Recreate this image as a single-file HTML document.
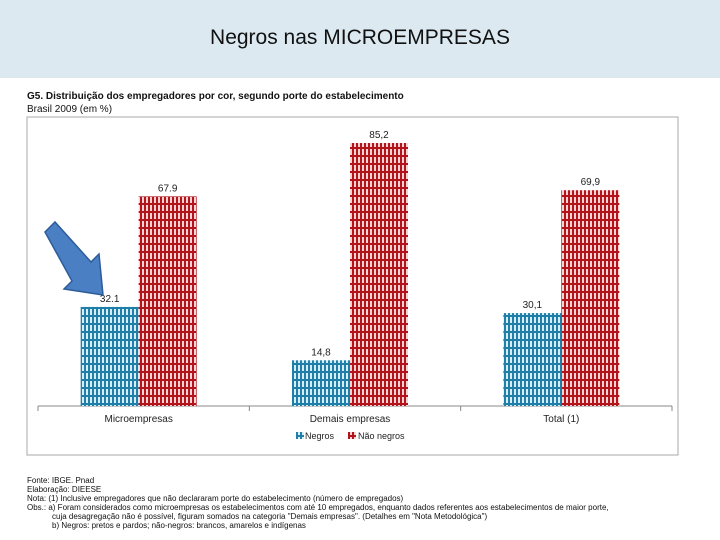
<!DOCTYPE html>
<html><head><meta charset="utf-8"><style>
body{margin:0;width:720px;height:540px;background:#fff;overflow:hidden;font-family:"Liberation Sans",sans-serif;position:relative}
#hdr{position:absolute;left:0;top:0;width:720px;height:78px;background:#dce9f1}
#ttl{position:absolute;left:0;top:26px;width:720px;text-align:center;font-size:21px;color:#111}
.t{position:absolute;font-size:10px;color:#111;white-space:nowrap}
</style></head><body>
<div id="hdr"></div>
<div id="ttl">Negros nas MICROEMPRESAS</div>
<div class="t" style="left:27px;top:91px;font-weight:bold">G5. Distribuição dos empregadores por cor, segundo porte do estabelecimento</div>
<div class="t" style="left:27px;top:104px">Brasil 2009 (em %)</div>
<div class="t" style="left:27px;top:476px;font-size:8px">Fonte: IBGE. Pnad</div>
<div class="t" style="left:27px;top:485px;font-size:8px">Elaboração: DIEESE</div>
<div class="t" style="left:27px;top:494px;font-size:8px">Nota: (1) Inclusive empregadores que não declararam porte do estabelecimento (número de empregados)</div>
<div class="t" style="left:27px;top:503px;font-size:8px">Obs.: a) Foram considerados como microempresas os estabelecimentos com até 10 empregados, enquanto dados referentes aos estabelecimentos de maior porte,</div>
<div class="t" style="left:52px;top:512px;font-size:8px">cuja desagregação não é possível, figuram somados na categoria "Demais empresas". (Detalhes em "Nota Metodológica")</div>
<div class="t" style="left:52px;top:521px;font-size:8px">b) Negros: pretos e pardos; não-negros: brancos, amarelos e indígenas</div>
<svg id="chart" width="720" height="540" style="position:absolute;left:0;top:0">
<defs>
<pattern id="pb" width="4" height="8" patternUnits="userSpaceOnUse"><rect width="4" height="8" fill="#d6eef5"/><rect width="2" height="8" fill="#1f7fa8"/><rect x="2" y="3" width="2" height="2" fill="#1f7fa8"/></pattern>
<pattern id="pr" width="4" height="8" patternUnits="userSpaceOnUse"><rect width="4" height="8" fill="#f6d4d4"/><rect width="2" height="8" fill="#b3141c"/><rect x="2" y="3" width="2" height="2" fill="#b3141c"/></pattern>
</defs>
<line x1="27" y1="117" x2="477" y2="117" stroke="#888"/>
<rect x="27" y="117" width="651" height="338" fill="none" stroke="#aaa"/>
<g id="bars"></g>
<polygon points="45,232 55,222 91,262 99,254 103,295 64,289 72,281" fill="#4a7fc4" stroke="#2c5c99" stroke-width="1.5"/>
</svg>
<script>
const categories=["Microempresas","Demais empresas","Total (1)"];
const negros=[32.1,14.8,30.1];
const naoNegros=[67.9,85.2,69.9];
const labelsN=["32.1","14,8","30,1"];
const labelsNN=["67.9","85,2","69,9"];
const svg=document.getElementById('chart');const g=document.getElementById('bars');
const NS='http://www.w3.org/2000/svg';
const x0=38,x1=672,base=406,scale=263/85.2,bw=58;
const y=v=>base-v*scale;
const grpW=(x1-x0)/categories.length;
function mk(tag,attrs){const e=document.createElementNS(NS,tag);for(const k in attrs)e.setAttribute(k,attrs[k]);g.appendChild(e);return e;}
const ax=mk('line',{x1:x0,y1:base,x2:x1,y2:base,stroke:'#888'});


for(let i=0;i<=categories.length;i++){const tk=mk('line',{x1:x0+i*grpW,y1:base,x2:x0+i*grpW,y2:base+5,stroke:'#888'});

}
categories.forEach((c,i)=>{
 const cx=x0+grpW*(i+0.5)-5;
 const b1=mk('rect',{x:cx-bw,y:y(negros[i]),width:bw,height:negros[i]*scale,fill:'url(#pb)'});
 
 
 const b2=mk('rect',{x:cx,y:y(naoNegros[i]),width:bw,height:naoNegros[i]*scale,fill:'url(#pr)'});
 
 
 const l1=mk('text',{x:cx-bw/2,y:y(negros[i])-5,'text-anchor':'middle','font-size':'10',fill:'#222'});l1.textContent=labelsN[i];
 
 
 const l2=mk('text',{x:cx+bw/2,y:y(naoNegros[i])-5,'text-anchor':'middle','font-size':'10',fill:'#222'});l2.textContent=labelsNN[i];
 
 
 const cl=mk('text',{x:cx,y:base+16,'text-anchor':'middle','font-size':'10',fill:'#222'});cl.textContent=c;
 
 
});
const lg1=mk('rect',{x:296,y:432,width:8,height:7,fill:'url(#pb)'});


const lt1=mk('text',{x:305,y:439,'font-size':'9',fill:'#222'});lt1.textContent='Negros';


const lg2=mk('rect',{x:348,y:432,width:8,height:7,fill:'url(#pr)'});


const lt2=mk('text',{x:358,y:439,'font-size':'9',fill:'#222'});lt2.textContent='Não negros';


</script>
</body></html>
